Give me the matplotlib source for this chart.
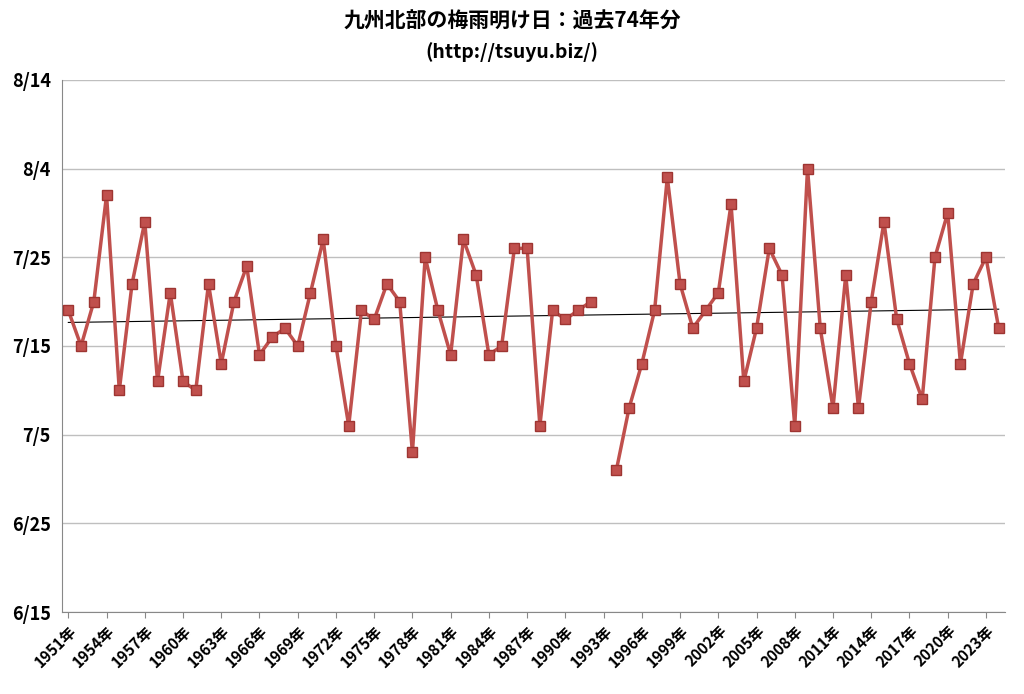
import matplotlib
matplotlib.use("Agg")
import matplotlib.pyplot as plt
import numpy as np

plt.rcParams["font.family"] = ["Noto Sans CJK JP", "DejaVu Sans"]

years = list(range(1951, 2025))
# days after June 15 (None = no declaration)
days = [34,30,35,47,25,37,44,26,36,26,25,37,28,35,39,29,31,32,30,36,
        42,30,21,34,33,37,35,18,40,34,29,42,38,29,30,41,41,21,34,33,
        34,35,None,16,23,28,34,49,37,32,34,36,46,26,32,41,38,21,50,32,
        23,38,23,35,44,33,28,24,40,45,28,37,40,32]
ytick_vals = [0,10,20,30,40,50,60]
ytick_labels = ["6/15","6/25","7/5","7/15","7/25","8/4","8/14"]

x = np.array(years, dtype=float)
y = np.array([np.nan if d is None else d for d in days], dtype=float)

fig = plt.figure(figsize=(10.24, 6.94), dpi=100)
ax = fig.add_axes([0.0605, 0.118, 0.921, 0.767])
ax.plot(x, y, color="#C0504D", lw=2.5, marker="s", ms=7,
        mfc="#C0504D", mec="#9E3532", zorder=3)
m = ~np.isnan(y)
k, b = np.polyfit(x[m], y[m], 1)
ax.plot([x[0], x[-1]], [k*x[0]+b, k*x[-1]+b], color="black", lw=0.8, zorder=2)

ax.set_ylim(0, 60)
ax.set_yticks(ytick_vals)
ax.set_yticklabels(ytick_labels, fontsize=13, fontweight="bold")
ax.set_xlim(1950.5, 2024.5)
tick_years = years[::3]
ax.set_xticks(tick_years)
ax.set_xticklabels([f"{t}年" for t in tick_years], rotation=45, ha="right",
                   rotation_mode="anchor", fontsize=11, fontweight="bold")
ax.grid(axis="y", color="#BFBFBF", lw=1)
ax.set_axisbelow(True)
for s in ["top", "right"]:
    ax.spines[s].set_visible(False)
for s in ["left", "bottom"]:
    ax.spines[s].set_color("#888888")
ax.tick_params(axis="y", length=0, pad=8)
ax.tick_params(axis="x", length=4, color="#888888")

fig.text(0.5, 0.97, "九州北部の梅雨明け日：過去74年分", ha="center", va="center",
         fontsize=15, fontweight="bold")
fig.text(0.5, 0.925, "(http://tsuyu.biz/)", ha="center", va="center",
         fontsize=14, fontweight="bold")
fig.savefig("out.png", dpi=100)
